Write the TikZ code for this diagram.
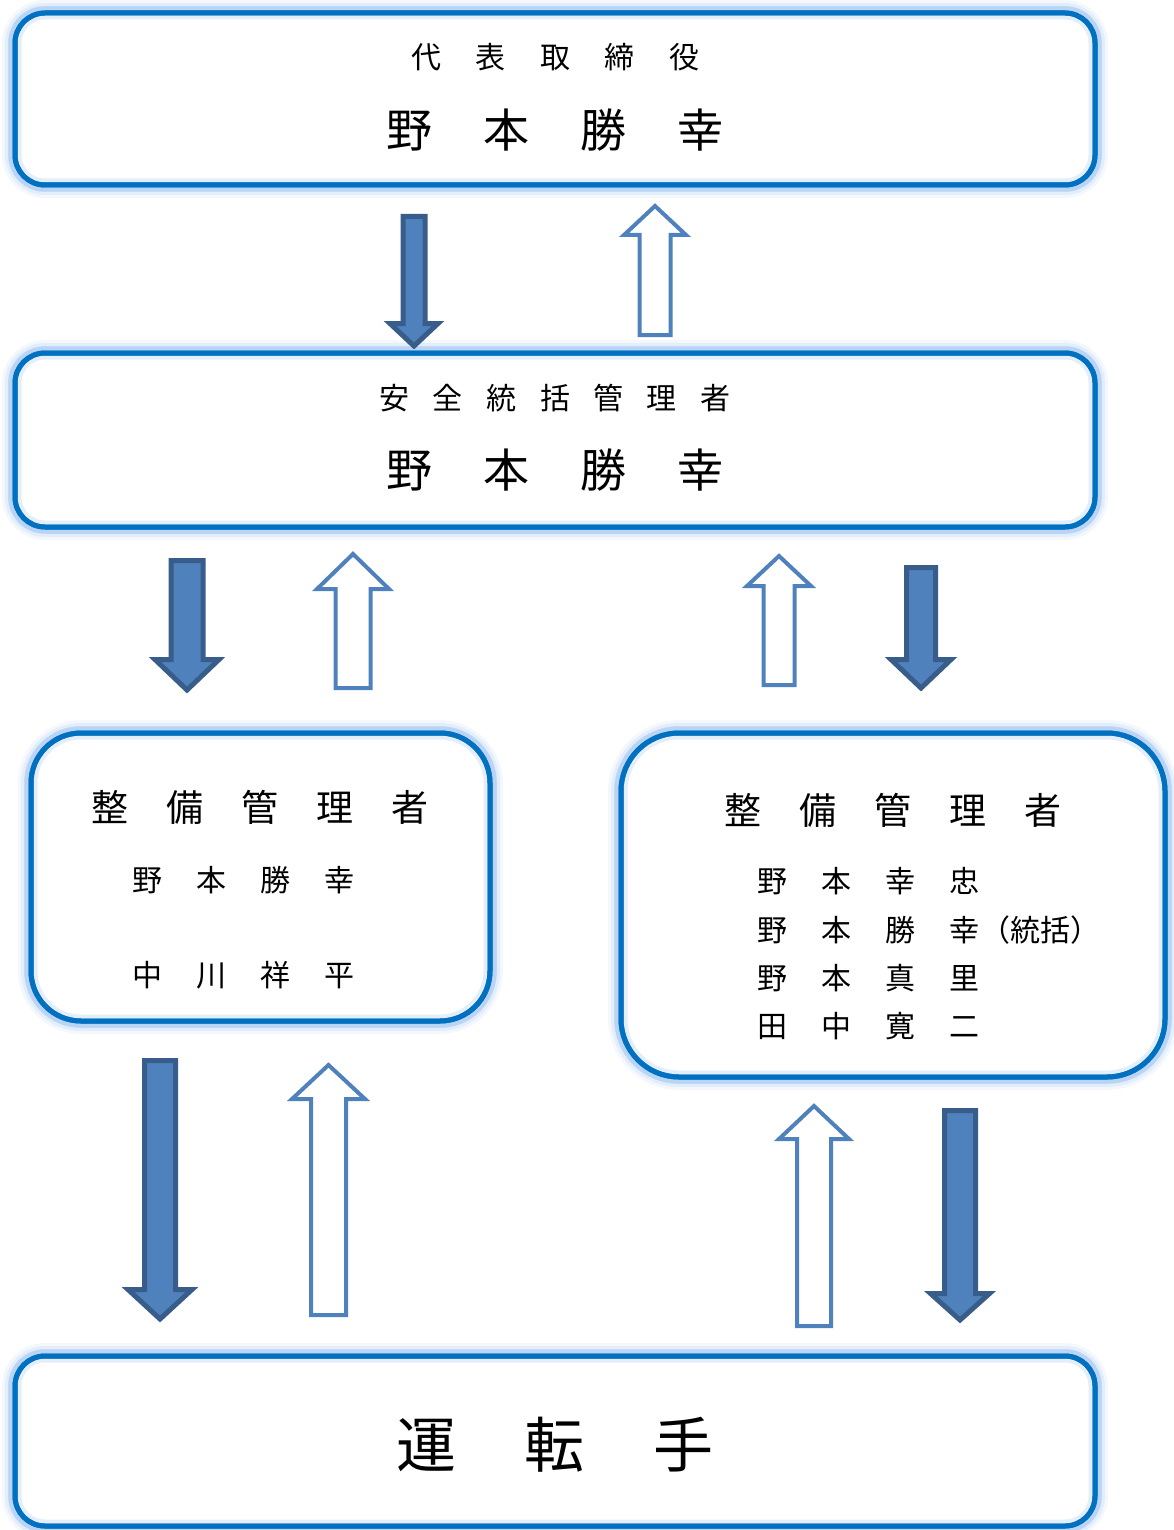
\documentclass[tikz,border=0pt]{standalone}
\usepackage{fontspec}
\setmainfont{Noto Sans CJK JP}
\definecolor{mainblue}{HTML}{0070C0}
\definecolor{glowc}{RGB}{110,165,235}
\definecolor{arrfill}{HTML}{4F81BD}
\definecolor{arrdark}{HTML}{385D8A}
\newcommand{\gp}[1]{\hspace*{#1pt}}
\newcommand{\fs}[1]{\fontsize{#1pt}{#1pt}\selectfont}
% down arrow: cx, shaft half width, head half width, top, head start, tip
\newcommand{\DnArr}[6]{\draw[dnarr] (#1-#2,#4) -- (#1+#2,#4) -- (#1+#2,#5) -- (#1+#3,#5) -- (#1,#6) -- (#1-#3,#5) -- (#1-#2,#5) -- cycle;}
% up arrow: cx, shaft half width, head half width, bottom, head base, tip
\newcommand{\UpArr}[6]{\draw[uparr] (#1-#2,#4) -- (#1+#2,#4) -- (#1+#2,#5) -- (#1+#3,#5) -- (#1,#6) -- (#1-#3,#5) -- (#1-#2,#5) -- cycle;}
\tikzset{
  boxst/.style={rectangle, fill=white, draw=mainblue, line width=5pt, inner sep=0pt,
    preaction={draw=glowc, line width=26pt, draw opacity=0.08},
    preaction={draw=glowc, line width=20pt, draw opacity=0.12},
    preaction={draw=glowc, line width=14pt, draw opacity=0.22},
    postaction={draw=glowc, line width=13pt, draw opacity=0.18},
    postaction={draw=mainblue, line width=5pt}},
  dnarr/.style={fill=arrfill, draw=arrdark, line width=5pt, line join=miter},
  uparr/.style={fill=white, draw=arrfill, line width=4pt, line join=miter},
  txt/.style={inner sep=0pt, text=black}
}
\begin{document}
\begin{tikzpicture}[x=1pt, y=-1pt]
\useasboundingbox (0,0) rectangle (1173,1530);
% boxes
\node[boxst, minimum width=1080pt, minimum height=172pt, rounded corners=30pt] (b1) at (555,99) {};
\node[boxst, minimum width=1080pt, minimum height=174pt, rounded corners=30pt] (b2) at (555,440) {};
\node[boxst, minimum width=459pt, minimum height=288pt, rounded corners=50pt] (b3) at (260.5,877) {};
\node[boxst, minimum width=544pt, minimum height=344pt, rounded corners=58pt] (b4) at (893,905) {};
\node[boxst, minimum width=1080pt, minimum height=170pt, rounded corners=30pt] (b5) at (555,1441) {};
% texts top box
\node[txt, font=\fs{30}] (t1a) at (555,57) {代\gp{34.5}表\gp{34.5}取\gp{34.5}締\gp{34.5}役};
\node[txt, font=\fs{46}] (t1b) at (555,130) {野\gp{50.7}本\gp{50.7}勝\gp{50.7}幸};
% second box
\node[txt, font=\fs{30}] (t2a) at (555,398) {安\gp{23.5}全\gp{23.5}統\gp{23.5}括\gp{23.5}管\gp{23.5}理\gp{23.5}者};
\node[txt, font=\fs{46}] (t2b) at (555,470) {野\gp{50.7}本\gp{50.7}勝\gp{50.7}幸};
% left box
\node[txt, font=\fs{37}] (t3a) at (260,807) {整\gp{38}備\gp{38}管\gp{38}理\gp{38}者};
\node[txt, font=\fs{30}] (t3b) at (243.5,880) {野\gp{34.3}本\gp{34.3}勝\gp{34.3}幸};
\node[txt, font=\fs{30}] (t3c) at (243.5,975) {中\gp{34.3}川\gp{34.3}祥\gp{34.3}平};
% right box
\node[txt, font=\fs{37}] (t4a) at (893,810) {整\gp{38}備\gp{38}管\gp{38}理\gp{38}者};
\node[txt, font=\fs{30}] (t4b) at (868.5,881) {野\gp{34.3}本\gp{34.3}幸\gp{34.3}忠};
\node[txt, font=\fs{30}] (t4c) at (868.5,930) {野\gp{34.3}本\gp{34.3}勝\gp{34.3}幸};
\node[txt, font=\fs{30}, anchor=west] (t4x) at (t4c.east) {（統括）};
\node[txt, font=\fs{30}] (t4d) at (868.5,978) {野\gp{34.3}本\gp{34.3}真\gp{34.3}里};
\node[txt, font=\fs{30}] (t4e) at (868.5,1026) {田\gp{34.3}中\gp{34.3}寛\gp{34.3}二};
% bottom box
\node[txt, font=\fs{60}] (t5) at (555,1445) {運\gp{68.5}転\gp{68.5}手};
% arrows
\DnArr{414}{11}{24}{216.5}{323.5}{346}
\UpArr{655}{15.5}{31}{335}{235}{206}
\DnArr{187}{16}{32}{560.5}{659.5}{690}
\UpArr{353}{17.5}{36}{688}{589}{554}
\UpArr{779}{15.5}{32}{685}{586}{556}
\DnArr{921}{14.5}{30}{567.5}{659.5}{688}
\DnArr{160}{15.5}{32}{1060.5}{1289.5}{1319}
\UpArr{328.5}{17.5}{36.5}{1315}{1099}{1065}
\UpArr{814}{17}{35}{1326}{1139}{1106}
\DnArr{960}{15.5}{29.5}{1110.5}{1293.5}{1320}
\end{tikzpicture}
\end{document}
